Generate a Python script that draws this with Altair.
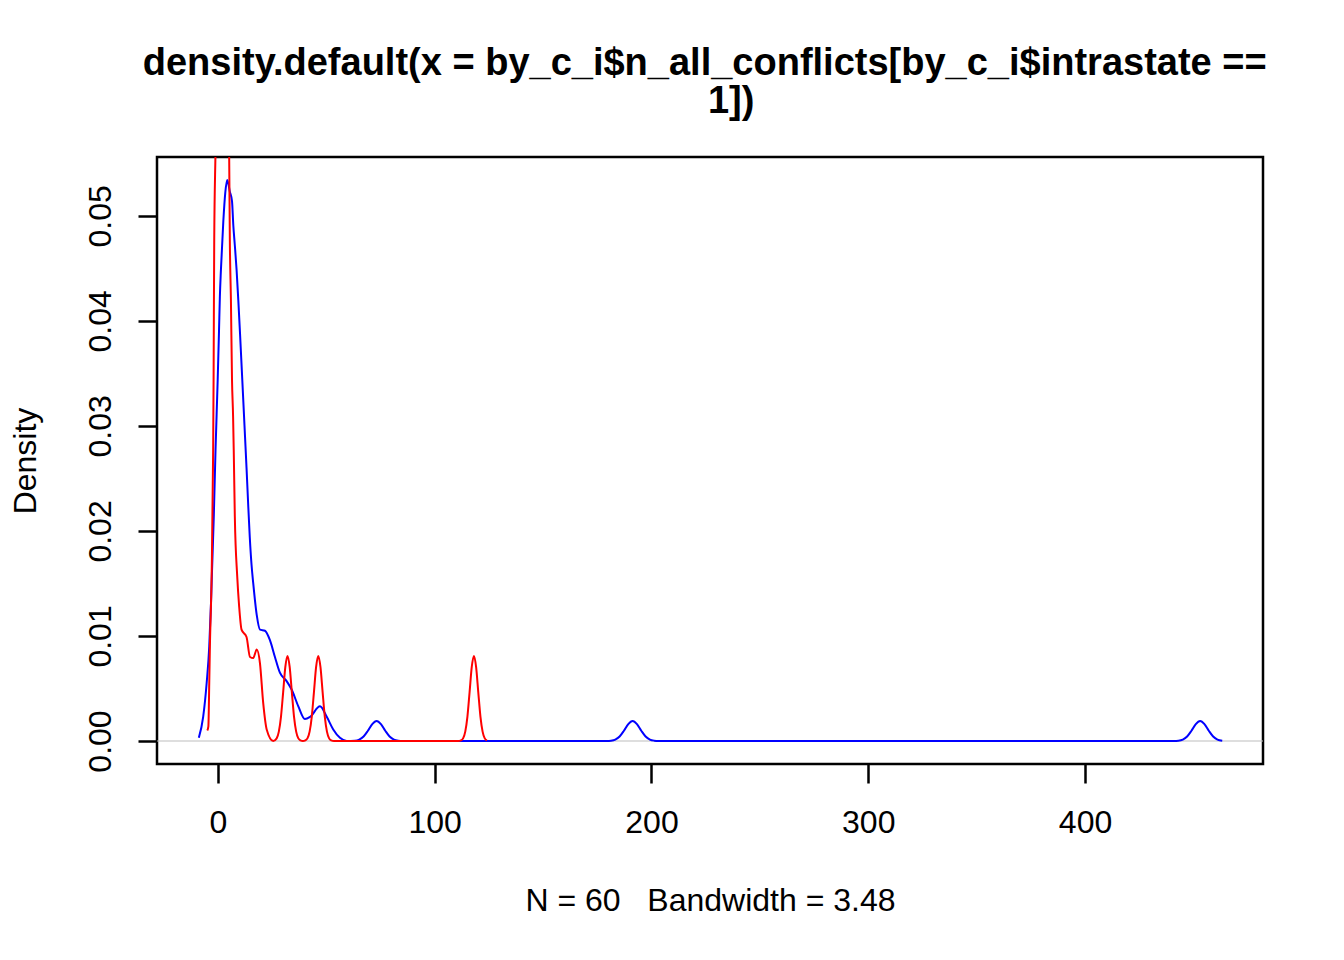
import pandas as pd
import altair as alt

# axis ticks
x_ticks = [0, 100, 200, 300, 400]
y_ticks = [0.00, 0.01, 0.02, 0.03, 0.04, 0.05]

# blue density
blue_x = [-8.8, -6.8, -5.2, -4.0, -3.2, -2.8, -1.9, -1.1, -0.1, 0.5, 0.9, 1.4,
          2.5, 3.4, 4.3, 5.5, 6.5, 7.1, 7.8, 8.6, 9.4, 10.2, 11.0, 11.8, 12.5,
          13.2, 13.9, 14.7, 15.5, 16.3, 17.9, 19.4, 21.7, 24.0, 26.3, 28.6,
          31.7, 34.0, 37.1, 40.1, 42.5, 47.1, 50.2, 53.2, 56.3, 59.4,
          63.2, 65.2, 67.2, 69.2, 71.2, 73.2, 75.2, 77.2, 79.2, 81.2, 83.2,
          85.0, 179.5,
          181.3, 183.3, 185.3, 187.3, 189.3, 191.3, 193.3, 195.3, 197.3, 199.3, 201.3,
          203.0, 441.0,
          443.1, 445.1, 447.1, 449.1, 451.1, 453.1, 455.1, 457.1, 459.1, 461.1, 463.3]
blue_d = [0.0003, 0.0023, 0.0055, 0.0090, 0.0131, 0.0157, 0.0214, 0.0277, 0.0344,
          0.0390, 0.0423, 0.0449, 0.0495, 0.0522, 0.0534, 0.0523, 0.0514, 0.0491,
          0.0472, 0.0449, 0.0420, 0.0388, 0.0354, 0.0320, 0.0290, 0.0260, 0.0228,
          0.0194, 0.0168, 0.0150, 0.0120, 0.0106, 0.0105, 0.0096, 0.0080, 0.0065,
          0.0057, 0.0049, 0.0033, 0.0021, 0.0023, 0.0033, 0.0023, 0.0011, 0.0003,
          0.0,
          0.00003, 0.00014, 0.00043, 0.00098, 0.00161, 0.0019, 0.00161, 0.00098,
          0.00043, 0.00014, 0.00003,
          0.0, 0.0,
          0.00003, 0.00014, 0.00043, 0.00098, 0.00161, 0.0019, 0.00161, 0.00098,
          0.00043, 0.00014, 0.00003,
          0.0, 0.0,
          0.00003, 0.00014, 0.00043, 0.00098, 0.00161, 0.0019, 0.00161, 0.00098,
          0.00043, 0.00014, 0.00003]

# red density (peak goes past the top of the frame)
red_x = [-4.9, -4.4, -4.0, -3.7, -2.9, -2.2, -2.0, -1.7, -1.15, 0.3, 2.0, 3.7,
         5.2, 5.5, 6.0, 6.5, 7.0, 7.3, 7.8, 8.9, 9.8, 10.9, 13.2, 14.8, 16.3,
         17.9, 19.4, 20.9, 22.5, 25.5,
         27.1, 28.1, 29.1, 30.1, 31.1, 32.1, 33.1, 34.1, 35.1, 36.1, 37.1, 38.1,
         39.2,
         40.3, 41.3, 42.3, 43.3, 44.3, 45.3, 46.3, 47.3, 48.3, 49.3, 50.3, 51.3,
         52.3, 53.5, 110.8,
         112.1, 113.1, 114.1, 115.1, 116.1, 117.1, 118.1, 119.1, 120.1, 121.1,
         122.1, 123.1, 124.1]
red_d = [0.0010, 0.0014, 0.0055, 0.0090, 0.0157, 0.0277, 0.0344, 0.0477, 0.0556,
         0.068, 0.072, 0.068, 0.0556, 0.0477, 0.0420, 0.0344, 0.0309, 0.0277,
         0.0214, 0.0157, 0.0128, 0.0106, 0.0099, 0.0080, 0.0079, 0.0087, 0.0074,
         0.0036, 0.0011, 0.0,
         0.00025, 0.00089, 0.00233, 0.00466, 0.00705, 0.0081, 0.00705, 0.00466,
         0.00233, 0.00089, 0.00025, 0.00006,
         0.0,
         0.00006, 0.00025, 0.00089, 0.00233, 0.00466, 0.00705, 0.0081, 0.00705,
         0.00466, 0.00233, 0.00089, 0.00025,
         0.00006, 0.0, 0.0,
         0.00006, 0.00025, 0.00089, 0.00233, 0.00466, 0.00705, 0.0081, 0.00705,
         0.00466, 0.00233, 0.00089, 0.00025, 0.00006]

c_font = "Liberation Sans"
nb = "\u00a0"
zw = "\u200b"
title_lines = ["density.default(x = by_c_i$n_all_conflicts[by_c_i$intrastate ==" + nb + zw,
               zw + nb * 4 + "1])"]
x_title = "N = 60" + nb * 3 + "Bandwidth = 3.48"

df_blue = pd.DataFrame({"x": blue_x, "d": blue_d})
df_red = pd.DataFrame({"x": red_x, "d": red_d})
df_zero = pd.DataFrame({"d": [0.0]})

x_scale = alt.Scale(domain=[-28.1, 482.1], nice=False, zero=False)
y_scale = alt.Scale(domain=[-0.00219, 0.0556], nice=False, zero=False)

x_axis = alt.Axis(
    values=x_ticks, title=x_title, grid=False, domain=False,
    tickSize=19, tickWidth=2.5, tickColor="black",
    labelFont=c_font, labelFontSize=32, labelColor="black", labelPadding=24,
    labelFlush=False,
    titleFont=c_font, titleFontSize=32, titleFontWeight="normal",
    titleColor="black", titleY=136, titleBaseline="middle"
)
y_axis = alt.Axis(
    values=y_ticks, format=".2f", title="Density", grid=False, domain=False,
    tickSize=19, tickWidth=2.5, tickColor="black",
    labelFont=c_font, labelFontSize=32, labelColor="black", labelPadding=28,
    labelAngle=270, labelAlign="center", labelBaseline="alphabetic",
    labelFlush=False,
    titleFont=c_font, titleFontSize=32, titleFontWeight="normal",
    titleColor="black", titleAngle=270, titleX=-132, titleBaseline="middle",
    titleAlign="center"
)

zero_line = alt.Chart(df_zero).mark_rule(color="#bebebe", strokeWidth=1.2).encode(
    y=alt.Y("d:Q", scale=y_scale, axis=y_axis)
)

blue_line = alt.Chart(df_blue).mark_line(
    color="#0000ff", strokeWidth=2, interpolate="monotone", clip=True
).encode(
    x=alt.X("x:Q", scale=x_scale, axis=x_axis),
    y=alt.Y("d:Q", scale=y_scale, axis=y_axis)
)

red_line = alt.Chart(df_red).mark_line(
    color="#ff0000", strokeWidth=2, interpolate="monotone", clip=True
).encode(
    x=alt.X("x:Q", scale=x_scale, axis=x_axis),
    y=alt.Y("d:Q", scale=y_scale, axis=y_axis)
)

chart = (zero_line + blue_line + red_line).properties(
    width=1106,
    height=607,
    autosize="none",
    background="white",
    padding={"left": 149, "top": 149, "right": 73, "bottom": 188},
    title=alt.TitleParams(
        text=title_lines, font=c_font, fontSize=38, fontWeight="bold",
        color="black", anchor="middle", lineHeight=38, offset=36
    )
).configure_view(
    stroke="black", strokeWidth=2.5
)

chart.save("out.html", embed_options={"renderer": "svg", "actions": False})
